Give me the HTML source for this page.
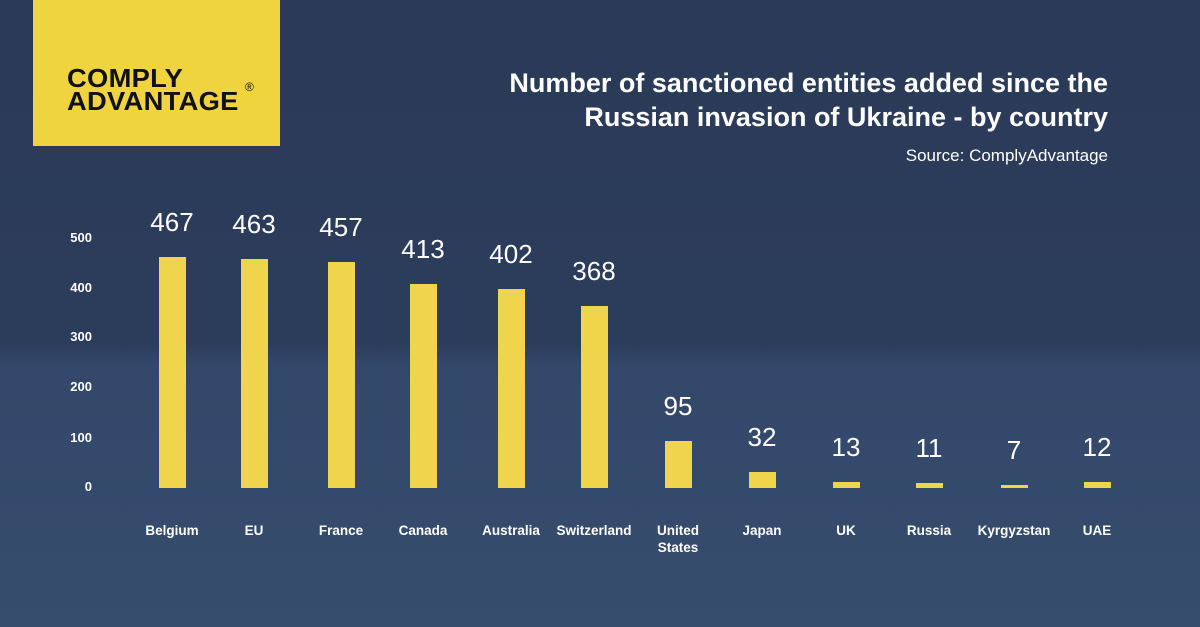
<!DOCTYPE html>
<html><head><meta charset="utf-8"><style>
body{margin:0}
#c{position:relative;width:1200px;height:627px;overflow:hidden;font-family:"Liberation Sans",sans-serif;
background:linear-gradient(180deg,#2a3a57 0%,#2c3d5c 55%,#33476a 58%,#364d6d 100%);}
.logo{position:absolute;left:33px;top:0;width:247px;height:146px;background:#efd43f}
.logo div{position:absolute;left:34px;top:67px;font-weight:bold;font-size:26px;line-height:23px;color:#111;letter-spacing:0.3px;transform:scaleX(1.05);transform-origin:left}
.logo sup{position:absolute;left:212px;top:80px;font-size:12px;color:#111}
.t{position:absolute;right:92px;color:#fff;text-align:right}
.y{position:absolute;width:40px;left:52px;text-align:right;color:#fff;font-weight:bold;font-size:13px}
.b{position:absolute;width:27px;background:#f0d44b}
.v{position:absolute;width:100px;text-align:center;color:#fff;font-size:26px}
.l{position:absolute;width:110px;text-align:center;color:#fff;font-weight:bold;font-size:13.5px;line-height:17px}
</style></head><body><div id="c">
<div class="logo"><div>COMPLY<br>ADVANTAGE</div><sup>®</sup></div>
<div class="t" style="top:66px;font-size:27px;font-weight:bold;line-height:34px">Number of sanctioned entities added since the<br>Russian invasion of Ukraine - by country</div>
<div class="t" style="top:146px;font-size:17px">Source: ComplyAdvantage</div>
<div class="y" style="top:230px">500</div><div class="y" style="top:280px">400</div><div class="y" style="top:329px">300</div><div class="y" style="top:379px">200</div><div class="y" style="top:430px">100</div><div class="y" style="top:479px">0</div>
<div id="bars"></div>
<script>
var d=[["Belgium",467,172],["EU",463,254],["France",457,341],["Canada",413,423],["Australia",402,511],["Switzerland",368,594],["United<br>States",95,678],["Japan",32,762],["UK",13,846],["Russia",11,929],["Kyrgyzstan",7,1014],["UAE",12,1097]];
var h="";d.forEach(function(e){var ht=e[1]*0.495,top=488-ht;
h+='<div class="b" style="left:'+(e[2]-13.5)+'px;top:'+top+'px;height:'+ht+'px"></div>';
h+='<div class="v" style="left:'+(e[2]-50)+'px;top:'+(top-50)+'px">'+e[1]+'</div>';
h+='<div class="l" style="left:'+(e[2]-55)+'px;top:522px">'+e[0]+'</div>';});
document.getElementById("bars").innerHTML=h;
</script>
</div></body></html>
